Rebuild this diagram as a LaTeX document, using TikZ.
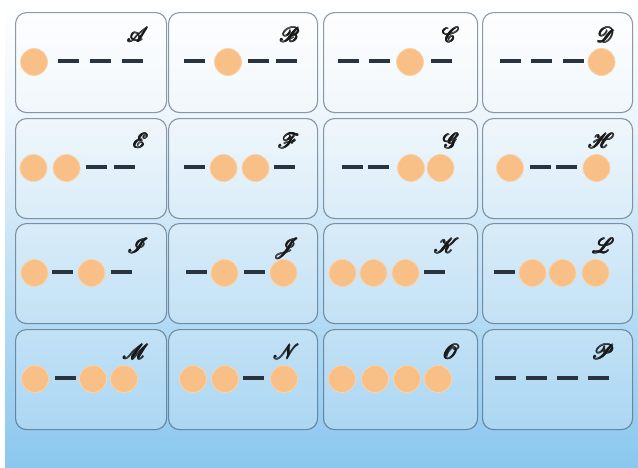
\documentclass[tikz,border=0pt]{standalone}
\usepackage{amsmath}
\usepackage{mathrsfs}
\definecolor{bgmid}{HTML}{EEF6FC}
\definecolor{bgbot}{HTML}{8AC7EE}
\definecolor{orb}{HTML}{F8BF86}
\definecolor{orbedge}{HTML}{FBD3AA}
\definecolor{barcol}{HTML}{2A3440}
\definecolor{edgecol}{HTML}{34485A}
\newcommand\fkbold[1]{\rlap{#1}\raisebox{0.3pt}{\rlap{#1}}\kern0.45pt\rlap{#1}\raisebox{0.3pt}{\rlap{#1}}\kern0.45pt#1}
\tikzset{
  cellbg/.style={draw=edgecol, draw opacity=0.55, line width=1.1pt, rounded corners=11pt,
    fill=white, fill opacity=0.22, inner sep=0pt},
  lettr/.style={inner sep=0pt, text=black!90, font=\fontsize{22}{24}\selectfont},
  ball/.style={circle, fill=orb, draw=orbedge, line width=0.8pt, minimum size=27pt, inner sep=0pt},
  barmark/.style={rectangle, fill=barcol, minimum width=21pt, minimum height=3.2pt, inner sep=0pt}
}
\newcommand\cellbox[6]{%
  \node[cellbg, minimum width=#4pt, minimum height=100pt, anchor=north west] (box#1) at (#2,#3) {};
  \node[lettr, anchor=base east] (lab#1) at ({#2+#4-17},{#3+30}) {\fkbold{$\mathscr{#5}$}};
  \foreach \t/\o [count=\k] in {#6} {
    \if\t c
      \node[ball] (#1item\k) at ({#2+\o},{#3+50}) {};
    \else
      \node[barmark] (#1item\k) at ({#2+\o},{#3+49}) {};
    \fi
  }%
}
\begin{document}
\begin{tikzpicture}[x=1pt,y=-1pt]
\useasboundingbox (0,0) rectangle (638,467);
\fill[white] (0,0) rectangle (638,467);
\shade[top color=white, bottom color=bgmid] (5,0) rectangle (638,110);
\shade[top color=bgmid, bottom color=bgbot] (5,110) rectangle (638,467);
% row 1
\cellbox{A}{15}{12}{151}{A}{c/19,d/53.5,d/85,d/117.5}
\cellbox{B}{168}{12}{149}{B}{d/26.5,c/60,d/90,d/118}
\cellbox{C}{323}{12}{154}{C}{d/25,d/56.5,c/87,d/118}
\cellbox{D}{482}{12}{150}{D}{d/28.5,d/59,d/91,c/119.5}
% row 2
\cellbox{E}{15}{118}{151}{E}{c/18.5,c/51.5,d/81,d/109.5}
\cellbox{F}{168}{118}{149}{F}{d/26,c/55.5,c/87.5,d/116}
\cellbox{G}{323}{118}{154}{G}{d/29.5,d/55.5,c/88,c/117.5}
\cellbox{H}{482}{118}{150}{H}{c/28,d/58,d/84,c/114.5}
% row 3
\cellbox{I}{15}{223}{151}{I}{c/19.5,d/47,c/76.5,d/106.5}
\cellbox{J}{168}{223}{149}{J}{d/28,c/56.5,d/86,c/115.5}
\cellbox{K}{323}{223}{154}{K}{c/19.5,c/50.5,c/82.5,d/111}
\cellbox{L}{482}{223}{150}{L}{d/22,c/50.5,c/80.5,c/113.5}
% row 4
\cellbox{M}{15}{329}{151}{M}{c/20,d/50,c/78,c/109}
\cellbox{N}{168}{329}{149}{N}{c/25,c/57,d/85,c/116}
\cellbox{O}{323}{329}{154}{O}{c/19,c/52,c/84,c/115}
\cellbox{P}{482}{329}{150}{P}{d/23,d/54,d/85,d/116}
\end{tikzpicture}
\end{document}
